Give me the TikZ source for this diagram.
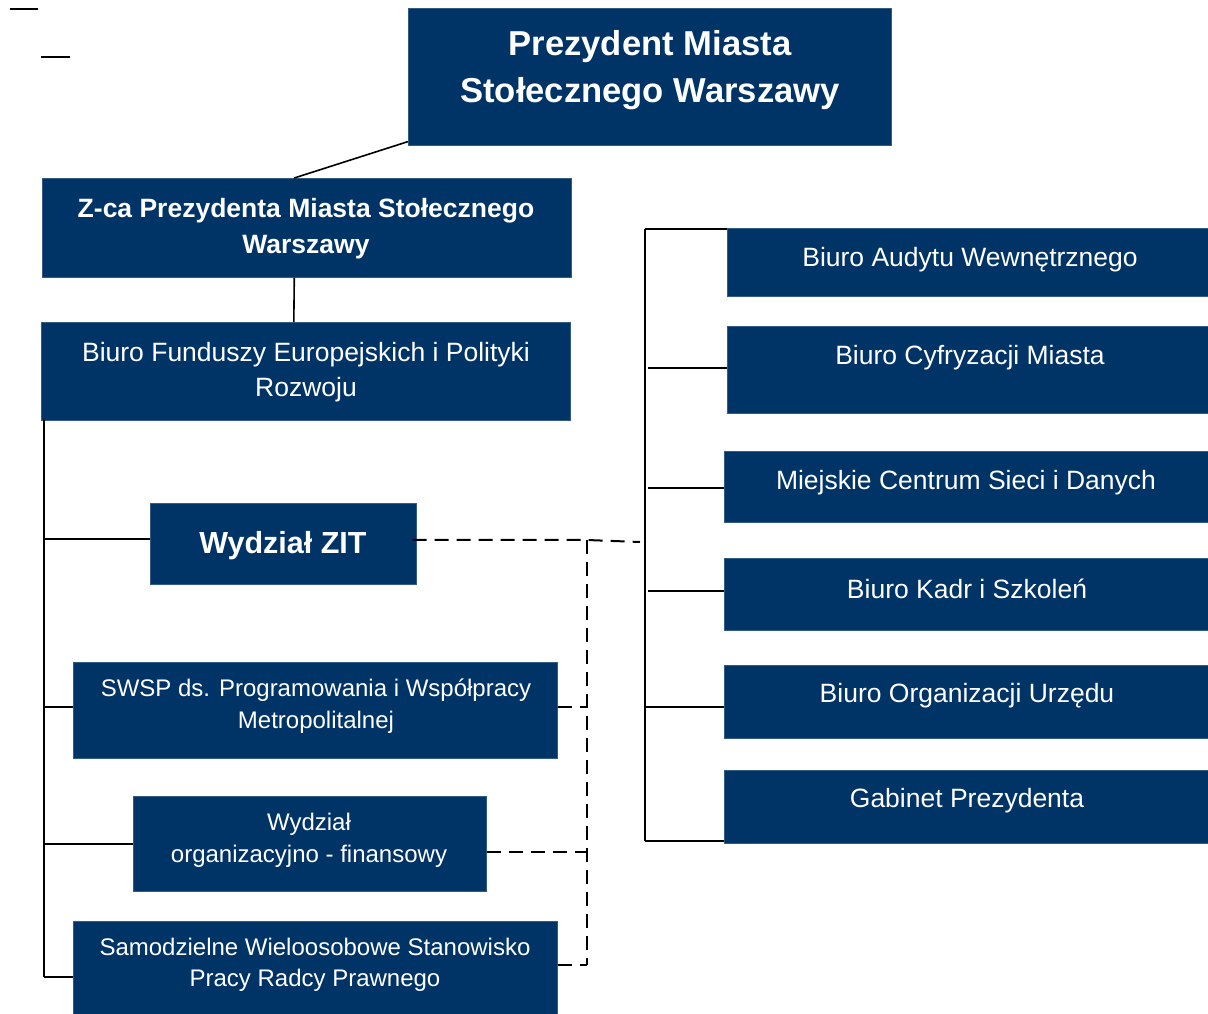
\documentclass[tikz,border=0pt]{standalone}
\usepackage{fontspec}
\setmainfont{Liberation Sans}
\definecolor{navy}{RGB}{0,51,102}
\tikzset{
  box/.style={fill=navy, draw=navy!80!white, line width=0.6pt, inner sep=0pt, anchor=north west},
  txt/.style={text=white, align=center, inner sep=0pt},
  ln/.style={line width=2pt, black},
  dsh/.style={line width=2pt, black, dash pattern=on 14pt off 8pt},
}
\newcommand{\bx}[5]{% name, x1, y1, x2, y2
  \node[box, minimum width={#4-#2}, minimum height={#5-#3}] (#1) at (#2,#3) {};}
\begin{document}
\begin{tikzpicture}[x=1pt,y=-1pt]
\useasboundingbox (0,0) rectangle (1208,1014);
% boxes
\bx{prez}{408}{8}{891}{145}
\bx{zca}{42}{178}{571}{277}
\bx{fund}{41}{322}{570}{420}
\bx{zit}{150}{503}{416}{584}
\bx{swsp}{73}{662}{557}{758}
\bx{wyd}{133}{796}{486}{891}
\bx{sam}{73}{921}{557}{1016}
\bx{aud}{727}{228}{1208}{296}
\bx{cyf}{727}{326}{1208}{413}
\bx{mie}{724}{451}{1208}{522}
\bx{kadr}{724}{558}{1208}{630}
\bx{org}{724}{665}{1208}{738}
\bx{gab}{724}{770}{1208}{843}
% texts
\node[txt, font=\fontsize{34.6}{47}\selectfont\bfseries] (tprez) at (650,70.5) {Prezydent Miasta\\Stołecznego Warszawy};
\node[txt, font=\fontsize{26.5}{36}\selectfont\bfseries] (tzca) at (306,229) {Z-ca Prezydenta Miasta Stołecznego\\Warszawy};
\node[txt, font=\fontsize{26.5}{35}\selectfont] (tfund) at (306,372.5) {Biuro Funduszy Europejskich i Polityki\\Rozwoju};
\node[txt, font=\fontsize{30.5}{36}\selectfont\bfseries] (tzit) at (283,546) {Wydział ZIT};
\node[txt, font=\fontsize{24}{32}\selectfont] (tswsp) at (316,706.5) {SWSP ds. Programowania i Współpracy\\Metropolitalnej};
\node[txt, font=\fontsize{24}{32}\selectfont] (twyd) at (309,840.5) {Wydział\\organizacyjno - finansowy};
\node[txt, font=\fontsize{24}{31}\selectfont] (tsam) at (315,965) {Samodzielne Wieloosobowe Stanowisko\\Pracy Radcy Prawnego};
\node[txt, font=\fontsize{26.5}{32}\selectfont] (taud) at (970,260) {Biuro Audytu Wewnętrznego};
\node[txt, font=\fontsize{26.5}{32}\selectfont] (tcyf) at (970,358) {Biuro Cyfryzacji Miasta};
\node[txt, font=\fontsize{26.5}{32}\selectfont] (tmie) at (966,483) {Miejskie Centrum Sieci i Danych};
\node[txt, font=\fontsize{26.5}{32}\selectfont] (tkadr) at (967,589) {Biuro Kadr i Szkoleń};
\node[txt, font=\fontsize{26.5}{32}\selectfont] (torg) at (967,696) {Biuro Organizacji Urzędu};
\node[txt, font=\fontsize{26.5}{32}\selectfont] (tgab) at (967,801) {Gabinet Prezydenta};
% stray marks top-left
\coordinate (s1a) at (10,9); \coordinate (s1b) at (38,9);
\coordinate (s2a) at (41,57); \coordinate (s2b) at (70,57);
\draw[ln] (s1a) -- (s1b);
\draw[ln] (s2a) -- (s2b);
% top connectors
\draw[line width=1.6pt] ([yshift=4]prez.south west) -- ([xshift=-12.5]zca.north);
\draw[line width=1.6pt] ([xshift=-12.5]zca.south) -- ([xshift=-12]fund.north);
% left trunk
\coordinate (lt) at (44,420);
\coordinate (lb) at (44,977);
\draw[ln] (lt) -- (lb);
\draw[ln] ([yshift=4.5]zit.west -| lt) -- ([yshift=4.5]zit.west);
\draw[ln] ([yshift=3]swsp.west -| lt) -- ([yshift=3]swsp.west);
\draw[ln] (wyd.west -| lt) -- (wyd.west);
\draw[ln] (lb) -- (lb -| sam.west);
% right trunk
\coordinate (rt) at (645,229);
\coordinate (rb) at (645,841);
\draw[ln] (rt) -- (rb);
\draw[ln] (rt) -- (rt -| aud.west);
\draw[ln] ([xshift=3,yshift=1.5]cyf.west -| rt) -- ([yshift=1.5]cyf.west);
\draw[ln] ([xshift=3,yshift=-1.5]mie.west -| rt) -- ([yshift=-1.5]mie.west);
\draw[ln] ([xshift=3,yshift=3]kadr.west -| rt) -- ([yshift=3]kadr.west);
\draw[ln] ([yshift=-5.5]org.west -| rt) -- ([yshift=-5.5]org.west);
\draw[ln] (rb) -- (rb -| gab.west);
% dashed links
\coordinate (dj) at (587,540);
\coordinate (dr) at (640,542);
\coordinate (db) at (587,965);
\draw[dsh] ([xshift=-4,yshift=4]zit.east) -- (dj) -- (dr);
\draw[dsh] (dj) -- (db);
\draw[dsh] ([yshift=3]swsp.east) -- ([yshift=3]swsp.east -| dj);
\draw[dsh] ([yshift=-8.5]wyd.east) -- ([yshift=-8.5]wyd.east -| dj);
\draw[dsh] (db -| sam.east) -- (db);
\end{tikzpicture}
\end{document}
